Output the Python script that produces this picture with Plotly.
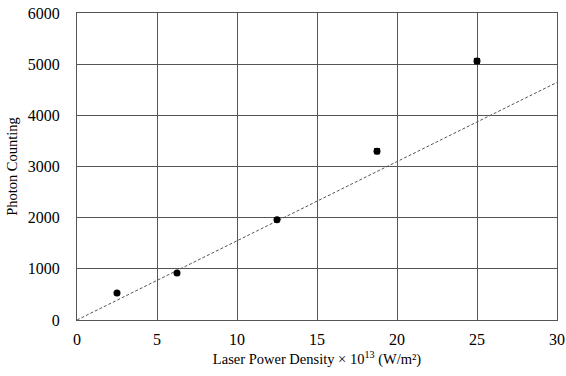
import plotly.graph_objects as go

# Data
power_density = [2.5, 6.25, 12.5, 18.75, 25.0]
photon_counts = [530, 920, 1960, 3300, 5060]
photon_err = [20, 25, 30, 50, 50]
trend_x = [0, 30]
trend_slope = 154.8
trend_y = [trend_slope * v for v in trend_x]

x_ticks = [0, 5, 10, 15, 20, 25, 30]
y_ticks = [0, 1000, 2000, 3000, 4000, 5000, 6000]

FONT = "Liberation Serif, Times New Roman, serif"
GRID = "#555555"

fig = go.Figure()
fig.add_trace(go.Scatter(
    x=trend_x, y=trend_y, mode="lines",
    line=dict(color="#555555", width=1, dash="3px,2px"),
    showlegend=False, hoverinfo="skip"))
fig.add_trace(go.Scatter(
    x=power_density, y=photon_counts, mode="markers",
    marker=dict(color="black", size=7),
    error_y=dict(type="data", array=photon_err, color="black", thickness=1, width=3),
    showlegend=False))

fig.update_layout(
    width=566, height=376,
    margin=dict(l=77, r=9, t=13, b=56),
    paper_bgcolor="white", plot_bgcolor="white",
    font=dict(family=FONT, size=16, color="black"),
)
fig.update_xaxes(
    range=[0, 30], tickvals=x_ticks, ticktext=[str(v) for v in x_ticks],
    showgrid=True, gridcolor=GRID, gridwidth=1,
    showline=True, linecolor=GRID, linewidth=1, mirror=True,
    zeroline=False, ticks="", ticklen=0, automargin=False,
    ticklabelstandoff=5,
    title=dict(text="Laser Power Density × 10<sup>13</sup> (W/m²)", font=dict(size=14.5), standoff=6),
)
fig.update_yaxes(
    range=[0, 6000], tickvals=y_ticks, ticktext=[str(v) for v in y_ticks],
    showgrid=True, gridcolor=GRID, gridwidth=1,
    showline=True, linecolor=GRID, linewidth=1, mirror=True,
    zeroline=False, ticks="", ticklen=0, automargin=False,
    ticklabelstandoff=13,
    title=dict(text="Photon Counting", font=dict(size=14.5), standoff=6),
)

fig.write_html("out.html", config={"displayModeBar": False},
               post_script="document.body.style.margin='0';")
